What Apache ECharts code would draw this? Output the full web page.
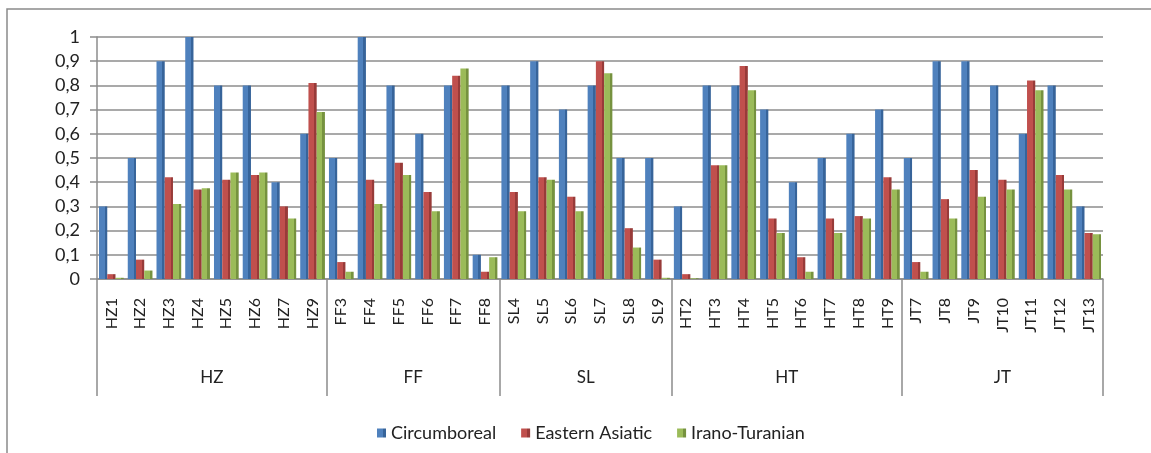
<!DOCTYPE html>
<html>
<head>
<meta charset="utf-8">
<script src="https://cdn.jsdelivr.net/npm/echarts@6/dist/echarts.min.js"></script>
<style>
html,body{margin:0;padding:0;background:#fff;}
#c{width:1151px;height:453px;}
</style>
</head>
<body>
<div id="c"></div>
<script>
const categories = ['HZ1','HZ2','HZ3','HZ4','HZ5','HZ6','HZ7','HZ9',
  'FF3','FF4','FF5','FF6','FF7','FF8',
  'SL4','SL5','SL6','SL7','SL8','SL9',
  'HT2','HT3','HT4','HT5','HT6','HT7','HT8','HT9',
  'JT7','JT8','JT9','JT10','JT11','JT12','JT13'];
const groupNames = ['HZ','FF','SL','HT','JT'];
const groupSizes = [8,6,6,8,7];
const seriesNames = ['Circumboreal','Eastern Asiatic','Irano-Turanian'];
const circumboreal = [0.3,0.5,0.9,1.0,0.8,0.8,0.4,0.6,
  0.5,1.0,0.8,0.6,0.8,0.1,
  0.8,0.9,0.7,0.8,0.5,0.5,
  0.3,0.8,0.8,0.7,0.4,0.5,0.6,0.7,
  0.5,0.9,0.9,0.8,0.6,0.8,0.3];
const easternAsiatic = [0.02,0.08,0.42,0.37,0.41,0.43,0.3,0.81,
  0.07,0.41,0.48,0.36,0.84,0.03,
  0.36,0.42,0.34,0.9,0.21,0.08,
  0.02,0.47,0.88,0.25,0.09,0.25,0.26,0.42,
  0.07,0.33,0.45,0.41,0.82,0.43,0.19];
const iranoTuranian = [0.005,0.035,0.31,0.375,0.44,0.44,0.25,0.69,
  0.03,0.31,0.43,0.28,0.87,0.09,
  0.28,0.41,0.28,0.85,0.13,0.005,
  0.003,0.47,0.78,0.19,0.03,0.19,0.25,0.37,
  0.03,0.25,0.34,0.37,0.78,0.37,0.185];
const yTicks = ['0','0,1','0,2','0,3','0,4','0,5','0,6','0,7','0,8','0,9','1'];

// half-unit points for group axis
const halfData = [];
const boundaries = new Set([0]);
const centers = new Set();
let acc = 0;
for (let i = 0; i < groupSizes.length; i++) {
  centers.add(acc * 2 + groupSizes[i]);
  acc += groupSizes[i];
  boundaries.add(acc * 2);
}
for (let k = 0; k <= acc * 2; k++) halfData.push('');
acc = 0;
for (let i = 0; i < groupSizes.length; i++) {
  halfData[acc * 2 + groupSizes[i]] = groupNames[i];
  acc += groupSizes[i];
}

const FONT = 'Lato';
const gray = '#8c8c8c';
function grad(base, dark) {
  return new echarts.graphic.LinearGradient(0, 0, 1, 0, [
    {offset: 0, color: base}, {offset: 0.7, color: base},
    {offset: 0.7, color: dark}, {offset: 1, color: dark}
  ]);
}
const colors = ['#4F81BD','#C0504D','#9BBB59'];
const darks = ['#37649a','#983b39','#76923f'];
const values = [circumboreal, easternAsiatic, iranoTuranian];

const chart = echarts.init(document.getElementById('c'), null, {renderer: 'canvas'});
chart.setOption({
  animation: false,
  backgroundColor: '#fff',
  color: colors,
  textStyle: {fontFamily: FONT},
  graphic: [{
    type: 'rect', shape: {x: 7, y: 9, width: 1160, height: 460},
    style: {fill: 'none', stroke: '#8a8a8a', lineWidth: 1.5}, silent: true, z: -1
  }],
  grid: {left: 97, right: 48, top: 37, bottom: 174, containLabel: false, outerBoundsMode: 'none'},
  legend: {
    data: seriesNames, top: 419, left: 372,
    icon: 'rect', itemWidth: 9, itemHeight: 9, itemGap: 25,
    textStyle: {fontFamily: FONT, fontSize: 18, color: '#222'}
  },
  xAxis: [{
    type: 'category', data: categories, position: 'bottom',
    axisLine: {lineStyle: {color: gray, width: 1.5}},
    axisTick: {length: 64, lineStyle: {color: gray, width: 1.5}},
    axisLabel: {rotate: 90, margin: 19, fontSize: 16, color: '#222', fontFamily: FONT, interval: 0}
  }, {
    type: 'category', data: halfData, position: 'bottom', boundaryGap: false,
    axisLine: {show: false},
    axisTick: {show: true, length: 117, interval: (i) => boundaries.has(i), lineStyle: {color: gray, width: 1.5}},
    axisLabel: {show: true, interval: (i) => centers.has(i), margin: 90, fontSize: 17, color: '#222', fontFamily: FONT}
  }],
  yAxis: {
    type: 'value', min: 0, max: 1, interval: 0.1,
    axisLine: {show: true, lineStyle: {color: gray, width: 1.5}},
    axisTick: {show: true, length: 7, lineStyle: {color: gray, width: 1.5}},
    splitLine: {lineStyle: {color: gray, width: 1.5}},
    axisLabel: {fontSize: 18, color: '#222', margin: 17, fontFamily: FONT,
      formatter: (v) => yTicks[Math.round(v * 10)]}
  },
  series: seriesNames.map((name, i) => ({
    name, type: 'bar', data: values[i], xAxisIndex: 0,
    barGap: '0%', barCategoryGap: '14%',
    itemStyle: {color: grad(colors[i], darks[i])}
  }))
});
</script>
</body>
</html>
